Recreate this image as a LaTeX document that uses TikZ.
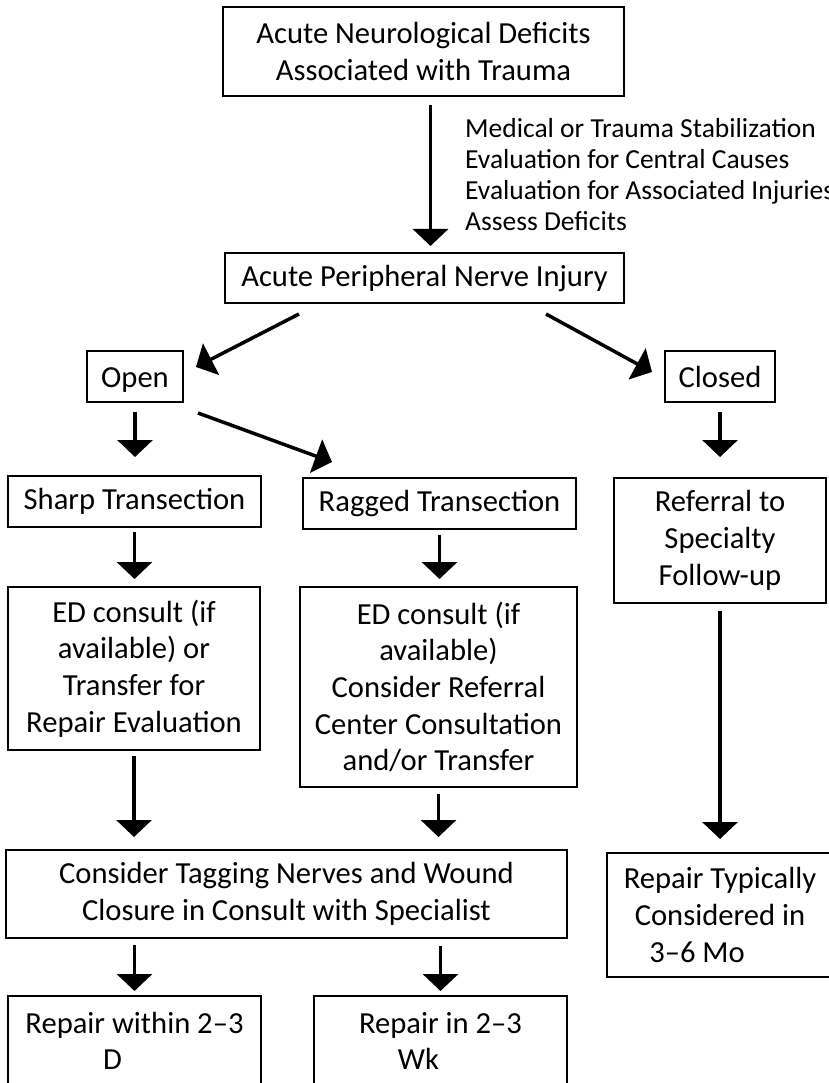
\documentclass[tikz,border=0pt]{standalone}
\usepackage{fontspec}
\setmainfont{Carlito}
\usetikzlibrary{arrows.meta}
\tikzset{
box/.style={draw, line width=2pt, inner sep=0pt, align=center,
  font=\fontsize{30.6}{36.7}\selectfont},
flow/.style={-{Triangle[width=35pt,length=17pt]}, line width=3.5pt},
%every node/.style={outer sep=0pt},
}

\begin{document}
\begin{tikzpicture}[x=1pt,y=-1pt]
\useasboundingbox (0,0) rectangle (828,1083);
\node[box,minimum width=401pt,minimum height=89pt] (trauma) at (423.5,51.5) {Acute Neurological Deficits\\Associated with Trauma};
\node[box,minimum width=399pt,minimum height=50pt] (apni) at (424.5,278) {Acute Peripheral Nerve Injury};
\node[anchor=west,align=left,inner sep=0pt,font=\fontsize{27.5}{31}\selectfont] (steps) at (465,175)
  {Medical or Trauma Stabilization\\Evaluation for Central Causes\\Evaluation for Associated Injuries\\Assess Deficits};
\node[box,minimum width=96pt,minimum height=51pt] (open) at (135,376.5) {\vphantom{Cl}\smash{Open}};
\node[box,minimum width=110pt,minimum height=51pt] (closed) at (720,376.5) {Closed};
\node[box,minimum width=253pt,minimum height=51pt] (sharp) at (134.5,501.5) {Sharp Transection};
\node[box,minimum width=273pt,minimum height=51pt] (ragged) at (439.5,503.5) {Ragged Transection};
\node[box,minimum width=212pt,minimum height=125pt] (referral) at (720,540.5) {Referral to\\Specialty\\Follow-up};
\node[box,minimum width=252pt,minimum height=163pt] (edleft) at (134,668.5) {ED consult (if\\available) or\\Transfer for\\Repair Evaluation};
\node[box,minimum width=277pt,minimum height=200pt] (edmid) at (438.5,687) {ED consult (if\\available)\\Consider Referral\\Center Consultation\\and/or Transfer};
\node[box,minimum width=561pt,minimum height=88pt] (tagging) at (286.5,894) {Consider Tagging Nerves and Wound\\Closure in Consult with Specialist};
\node[box,minimum width=226pt,minimum height=124pt] (typically) at (720,915) {Repair Typically\\Considered in\\3--6 Mo\hspace*{46pt}};
\node[box,minimum width=253pt,minimum height=90pt] (within) at (134.5,1041) {Repair within 2--3\\D\hspace*{44pt}};
\node[box,minimum width=253pt,minimum height=90pt] (inwk) at (440.5,1041) {Repair in 2--3\\Wk\hspace*{44pt}};

\path[flow]
([xshift=7pt]trauma.south) edge[shorten <=8pt,shorten >=6pt] ([xshift=7pt]trauma.south |- apni.north)
([xshift=75pt,yshift=-10pt]apni.south west) edge ([xshift=12pt,yshift=-17pt]open.north east)
([xshift=-79pt,yshift=-10pt]apni.south east) edge ([xshift=-12pt,yshift=-22pt]closed.north west)
(open.south) edge[shorten <=9pt,shorten >=18pt] (open.south |- sharp.north)
([xshift=14pt,yshift=-10pt]open.south east) edge ([xshift=30pt,yshift=15pt]ragged.north west)
(closed.south) edge[shorten <=9pt,shorten >=20pt] (referral.north)
(sharp.south) edge[shorten <=4pt,shorten >=7pt] (sharp.south |- edleft.north)
(ragged.south) edge[shorten <=5pt,shorten >=7pt] (ragged.south |- edmid.north)
(edleft.south) edge[shorten <=5pt,shorten >=12pt] (tagging.north -| edleft.south)
(edmid.south) edge[shorten <=6pt,shorten >=12pt] (tagging.north -| edmid.south)
(referral.south) edge[shorten <=7pt,shorten >=13pt] (typically.north -| referral.south)
(tagging.south -| within.north) edge[shorten <=6pt,shorten >=4pt] (within.north)
(tagging.south -| inwk.north) edge[shorten <=7pt,shorten >=4pt] (inwk.north)
;
\end{tikzpicture}
\end{document}
